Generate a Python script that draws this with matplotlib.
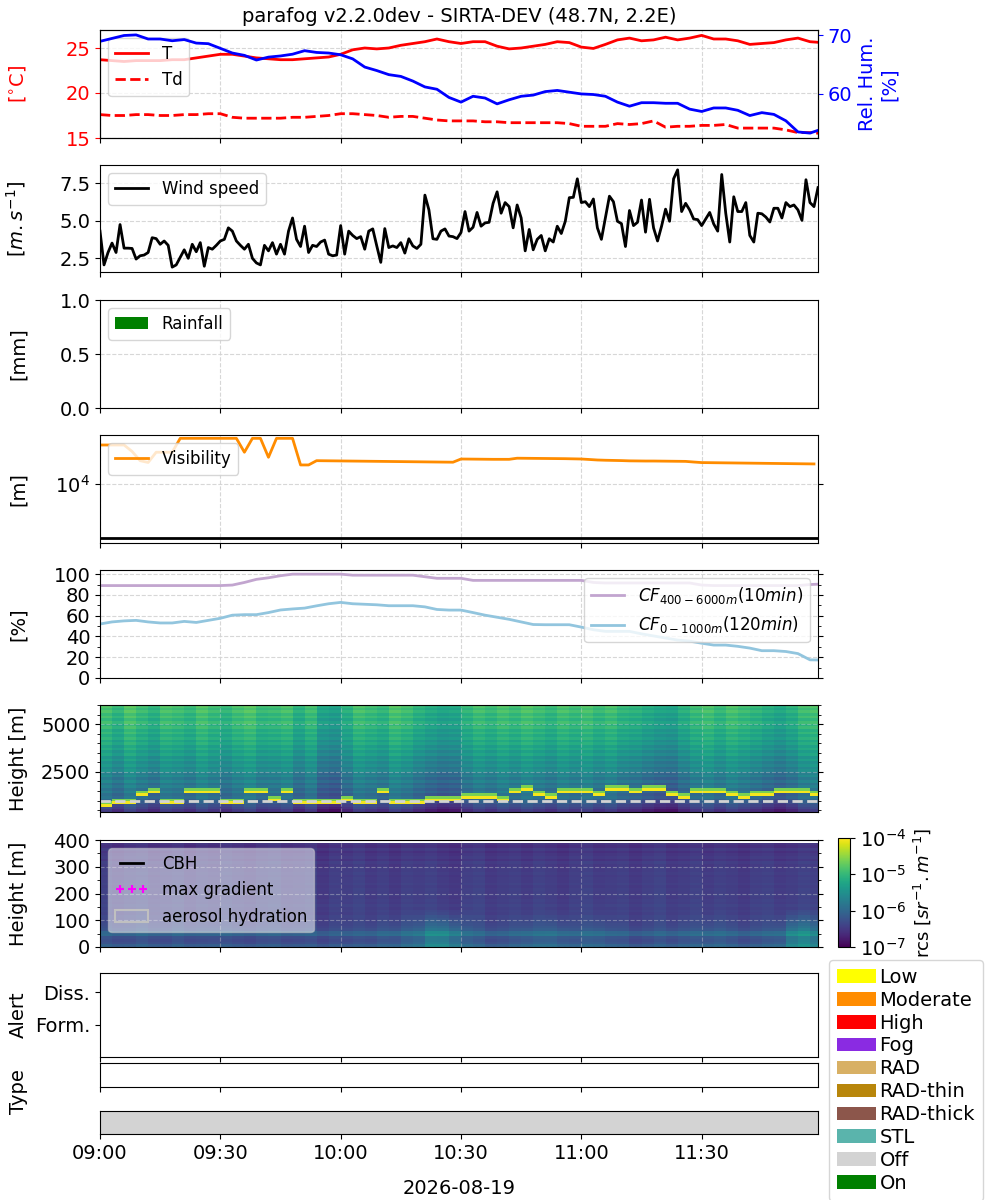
import numpy as np
import matplotlib
matplotlib.use('Agg')
import matplotlib.pyplot as plt
import matplotlib.dates as mdates
from matplotlib.colors import LogNorm
from matplotlib.patches import Patch
from matplotlib.lines import Line2D
from matplotlib.ticker import AutoMinorLocator, NullLocator, FixedLocator

title = 'parafog v2.2.0dev - SIRTA-DEV (48.7N, 2.2E)'
day = '2026-08-19'
t0 = np.datetime64(day + 'T09:00')
t_end = np.datetime64(day + 'T11:59')

# --- met data, every 3 min ---
temp = [23.7, 23.6, 23.5, 23.6, 23.6, 23.6, 23.7, 23.7, 23.9, 24.1,
        24.3, 24.3, 24.1, 23.9, 23.8, 23.7, 23.7, 23.8, 23.9, 24.0,
        24.3, 24.8, 25.0, 24.9, 25.0, 25.3, 25.5, 25.7, 26.0, 25.7,
        25.5, 25.7, 25.7, 25.2, 24.9, 25.0, 25.2, 25.4, 25.7, 25.6,
        25.1, 24.95, 25.4, 25.9, 26.1, 25.8, 25.9, 26.2, 25.9, 26.1,
        26.4, 26.0, 26.0, 25.8, 25.4, 25.5, 25.6, 25.9, 26.1, 25.7, 25.6]
dewpoint = [17.6, 17.5, 17.5, 17.6, 17.6, 17.5, 17.5, 17.6, 17.6, 17.7,
            17.7, 17.3, 17.2, 17.2, 17.2, 17.2, 17.3, 17.3, 17.4, 17.5,
            17.7, 17.7, 17.6, 17.5, 17.3, 17.4, 17.4, 17.2, 17.0, 16.9,
            16.9, 16.9, 16.8, 16.8, 16.7, 16.7, 16.7, 16.7, 16.7, 16.6,
            16.3, 16.3, 16.3, 16.6, 16.5, 16.6, 16.9, 16.2, 16.3, 16.3,
            16.4, 16.4, 16.5, 16.1, 16.1, 16.1, 16.1, 15.9, 15.6, 15.6, 15.5]
rel_hum = [69.0, 69.5, 70.0, 70.1, 69.4, 69.4, 69.1, 69.3, 68.7, 68.6,
           67.8, 67.0, 66.6, 65.8, 66.3, 66.5, 66.8, 67.4, 67.1, 67.0,
           66.7, 66.0, 64.6, 64.0, 63.3, 63.0, 62.2, 61.2, 60.8, 59.4,
           58.6, 59.6, 59.3, 58.3, 59.0, 59.6, 59.8, 60.4, 60.6, 60.3,
           60.0, 59.9, 59.6, 58.6, 57.9, 58.5, 58.5, 58.4, 58.4, 57.4,
           57.0, 57.6, 57.6, 57.2, 56.3, 56.8, 56.5, 55.4, 53.5, 53.3, 54.0]

# --- wind speed, every minute ---
wind = [4.3, 2.04, 2.87, 3.5, 2.87, 4.74, 3.16, 3.16, 3.14, 2.43,
        2.65, 2.7, 2.87, 3.86, 3.8, 3.42, 3.64, 3.35, 1.89, 2.04,
        2.54, 3.05, 2.48, 3.42, 2.92, 3.53, 1.95, 3.2, 3.09, 3.35,
        3.64, 3.75, 4.52, 4.3, 3.64, 3.35, 3.09, 3.42, 2.48, 2.17,
        2.04, 3.35, 2.98, 3.53, 2.76, 3.42, 2.76, 4.3, 5.18, 3.75,
        3.27, 4.63, 2.87, 3.35, 3.27, 3.57, 3.7, 2.76, 2.65, 2.7,
        4.67, 2.76, 4.3, 4.01, 3.8, 3.93, 3.09, 4.3, 4.45, 3.31,
        2.21, 4.47, 3.2, 3.31, 3.2, 3.53, 2.83, 3.79, 3.31, 3.14,
        3.42, 6.71, 5.72, 3.79, 3.75, 4.3, 4.45, 3.97, 3.93, 3.8,
        4.21, 5.61, 4.3, 4.56, 5.55, 4.63, 4.85, 4.89, 6.16, 6.93,
        5.5, 6.21, 5.94, 4.52, 6.05, 5.18, 2.98, 4.41, 3.05, 3.75,
        4.01, 2.98, 3.79, 3.57, 4.63, 4.14, 4.96, 6.54, 6.56, 7.8,
        6.21, 6.27, 5.94, 6.45, 4.52, 3.75, 5.18, 6.64, 6.27, 4.96,
        4.8, 3.27, 5.68, 4.67, 4.89, 6.38, 4.23, 6.43, 4.52, 3.64,
        4.63, 5.77, 4.96, 7.8, 8.4, 5.61, 6.16, 5.72, 5.11, 5.07,
        4.67, 5.11, 5.55, 4.78, 4.3, 8.09, 5.5, 3.57, 6.6, 5.61,
        5.61, 6.21, 4.01, 3.57, 5.5, 5.46, 5.24, 4.91, 5.83, 5.83,
        5.18, 6.21, 5.94, 6.05, 5.72, 5.02, 7.74, 6.21, 5.94, 7.21]

# --- rainfall, every 3 min ---
rainfall = [0.0] * 60

# --- visibility [m], every 2 min ---
visibility = [52700, 52700, 52700, 52700, 40000, 27000, 25000, 38700, 38700, 38700,
              70000, 70000, 70000, 70000, 70000, 70000, 70000, 70000, 38700, 70000,
              70000, 31200, 70000, 70000, 70000, 22500, 22500, 27000, 26900, 26800,
              26700, 26600, 26500, 26400, 26300, 26200, 26100, 26000, 25900, 25800,
              25700, 25600, 25500, 25400, 25300, 29000, 28900, 28800, 28700, 28600,
              28600, 28600, 30000, 29900, 29800, 29700, 29600, 29500, 29400, 29200,
              29000, 28400, 27800, 27500, 27300, 27100, 26800, 26700, 26600, 26600,
              26500, 26400, 26300, 26200, 25500, 24900, 24800, 24700, 24600, 24500,
              24400, 24300, 24200, 24100, 24000, 23900, 23800, 23700, 23600, 23500]
fog_vis_threshold = 1000

# --- cloud fractions [%], every 3 min ---
cf_high = [89, 89, 89, 89, 89, 89, 89, 89, 89, 89,
           89, 89.5, 92, 95, 96.5, 98.5, 100, 100, 100, 100,
           100, 99, 99, 99, 99, 99, 99, 97.5, 96, 96,
           96, 94, 94, 94, 94, 94, 94, 94, 94, 94,
           94, 92, 91.5, 91.5, 91.5, 91.5, 91.5, 91.5, 91.5, 91.5,
           89.5, 89, 89, 89, 89, 89, 89, 89, 89, 90, 90.5]
cf_low = [52, 54, 55, 55.5, 54, 53, 53, 54.5, 53.5, 55.5,
          57.5, 60.5, 61, 61, 63, 65.5, 66.5, 67.3, 69.5, 71.5,
          72.8, 71.5, 71, 70.5, 69.6, 69.6, 69.6, 68.5, 66, 65.4,
          65.4, 63, 60.5, 58.5, 56.5, 54, 51.5, 51.3, 51.3, 51.3,
          49, 46.5, 44.9, 44.9, 44.9, 42.5, 40.5, 38.5, 36.5, 35.5,
          33.5, 31.7, 31.7, 30.5, 28.8, 26.3, 26.3, 25.5, 23.5, 17.5, 17.3]

# --- lidar, columns every 3 min ---
cbh = [800, 820, 850, 1350, 1400, 900, 950, 1450, 1500, 1500,
       950, 900, 1450, 1500, 1000, 1500, 950, 900, 950, 900,
       1000, 950, 900, 1500, 900, 880, 900, 1000, 1000, 1000,
       1150, 1180, 1100, 1050, 1500, 1550, 1250, 1200, 1500, 1450,
       1400, 1350, 1600, 1550, 1500, 1550, 1600, 1250, 1200, 1500,
       1450, 1400, 1300, 1200, 1250, 1350, 1400, 1450, 1400, 1350]
# log10 rcs profile, 400-6000 m in 140 m bins
upper_profile = [-6.55, -6.40, -6.30, -6.15, -6.05, -5.90, -5.98, -5.80, -5.92, -5.74,
                 -5.88, -5.66, -5.82, -5.62, -5.74, -5.52, -5.62, -5.45, -5.56, -5.36,
                 -5.50, -5.28, -5.40, -5.22, -5.34, -5.16, -5.28, -5.10, -5.22, -5.06,
                 -5.18, -5.00, -5.14, -4.96, -5.10, -4.94, -5.06, -4.90, -5.00, -4.88]
upper_col_texture = [0.08, -0.08, 0.15, 0.0, -0.12, 0.09, 0.03, -0.06, 0.12, 0.0,
                     -0.08, 0.06, 0.15, -0.03, 0.0, 0.08, -0.15, 0.03, -0.3, -0.36,
                     -0.15, 0.08, 0.0, -0.08, 0.12, 0.03, -0.12, -0.22, -0.3, -0.27,
                     -0.08, 0.06, -0.03, 0.09, 0.0, 0.12, 0.03, -0.06, 0.08, 0.0,
                     0.09, -0.03, 0.06, -0.08, -0.12, -0.22, -0.3, -0.33, -0.15, 0.0,
                     0.08, -0.05, 0.09, 0.0, -0.08, -0.18, -0.27, -0.15, 0.03, 0.08]
# log10 rcs profile, 0-390 m in 10 m bins
lower_profile = [-6.15, -6.30, -6.35, -6.30, -6.05, -6.10, -6.30, -6.35, -6.38, -6.40,
                 -6.42, -6.40, -6.45, -6.42, -6.44, -6.40, -6.45, -6.43, -6.46, -6.42,
                 -6.45, -6.44, -6.47, -6.43, -6.46, -6.45, -6.48, -6.44, -6.47, -6.46,
                 -6.50, -6.45, -6.55, -6.48, -6.52, -6.58, -6.50, -6.60, -6.55]
lower_low_weight = [1.0, 1.0, 1.0, 0.9, 1.0, 0.9, 0.8, 0.7, 0.6, 0.5,
                    0.4, 0.3, 0.2, 0.1, 0, 0, 0, 0, 0, 0,
                    0, 0, 0, 0, 0, 0, 0, 0, 0, 0,
                    0, 0, 0, 0, 0, 0, 0, 0, 0]
lower_boost = [0.05, 0.05, 0.0, 0.05, 0.05, 0.0, 0.05, 0.05, 0.0, 0.05,
               0.0, 0.0, 0.0, 0.0, 0.0, 0.0, 0.0, 0.0, 0.0, 0.0,
               0.0, 0.0, 0.05, 0.1, 0.15, 0.2, 0.3, 0.55, 0.6, 0.45,
               0.2, 0.1, 0.05, 0.05, 0.1, 0.2, 0.2, 0.25, 0.2, 0.1,
               0.15, 0.2, 0.1, 0.05, 0.0, 0.0, 0.05, 0.05, 0.1, 0.1,
               0.15, 0.15, 0.1, 0.05, 0.05, 0.1, 0.2, 0.55, 0.65, 0.5]
lower_col_texture = [0.03, -0.04, 0.02, 0.05, -0.03, 0.0, 0.04, -0.05, 0.02, -0.02,
                     0.05, 0.0, -0.04, 0.03, 0.06, -0.02, 0.0, 0.04, -0.06, 0.02,
                     0.0, 0.05, -0.03, 0.02, -0.05, 0.03, 0.0, 0.04, -0.02, -0.06,
                     0.02, 0.05, -0.04, 0.0, 0.03, -0.03, 0.04, 0.0, -0.05, 0.02,
                     0.05, -0.02, 0.0, 0.03, -0.04, 0.02, 0.06, -0.03, 0.0, 0.04,
                     -0.02, 0.03, 0.0, -0.05, 0.02, 0.04, -0.03, 0.0, 0.05, 0.02]

# --- product periods ---
onoff_periods = [('Off', '09:00', '12:00')]

state_labels = ['Low', 'Moderate', 'High', 'Fog', 'RAD', 'RAD-thin', 'RAD-thick', 'STL', 'Off', 'On']
state_colors = ['yellow', 'darkorange', 'red', 'blueviolet', '#d8b064', 'darkgoldenrod',
                '#8c564b', '#5ab4ac', 'lightgray', 'green']

# time axes
t_met = t0 + np.arange(len(temp)) * np.timedelta64(3, 'm')
t_wind = t0 + np.arange(len(wind)) * np.timedelta64(1, 'm')
t_rain = t0 + np.arange(len(rainfall)) * np.timedelta64(3, 'm')
t_vis = t0 + np.arange(len(visibility)) * np.timedelta64(2, 'm')
t_cf = t0 + np.arange(len(cf_high)) * np.timedelta64(3, 'm')
t_edges = t0 + np.arange(len(cbh) + 1) * np.timedelta64(3, 'm')
up_edges = np.arange(400, 6001, 140)
low_edges = np.arange(0, 391, 10)

# lidar fields
upper = np.array(upper_profile)[:, None] + np.array(upper_col_texture)[None, :]
for j, h in enumerate(cbh):
    i = int((h - 400) // 140)
    upper[i, j] = -4.05
    upper[i + 1, j] = -4.6
lower = (np.array(lower_profile)[:, None] + np.array(lower_col_texture)[None, :]
         + np.array(lower_low_weight)[:, None] * np.array(lower_boost)[None, :])

FS = 14
plt.rcParams['font.size'] = FS

fig = plt.figure(figsize=(10, 12), dpi=100)


def rect(top, bot):
    return [0.10, 1 - bot / 1200, 0.718, (bot - top) / 1200]


def style(ax, right=True):
    ax.grid(True, ls='--', color='lightgray', alpha=0.9)
    ax.tick_params(labelbottom=False, labelsize=FS)
    if right:
        ax.tick_params(which='both', right=True)
    ax.yaxis.set_label_coords(-0.10, 0.5)


ax_t = fig.add_axes(rect(30, 138))
ax_w = fig.add_axes(rect(165, 272), sharex=ax_t)
ax_r = fig.add_axes(rect(300, 408), sharex=ax_t)
ax_v = fig.add_axes(rect(435, 543), sharex=ax_t)
ax_c = fig.add_axes(rect(570, 678), sharex=ax_t)
ax_h1 = fig.add_axes(rect(705, 812), sharex=ax_t)
ax_h2 = fig.add_axes(rect(840, 947), sharex=ax_t)
ax_a = fig.add_axes(rect(973, 1057), sharex=ax_t)
ax_ty = fig.add_axes(rect(1063, 1087), sharex=ax_t)
ax_o = fig.add_axes(rect(1111, 1134), sharex=ax_t)
cax = fig.add_axes([0.838, 1 - 947 / 1200, 0.012, 109 / 1200])

# temperature / humidity
ax_t.plot(t_met, temp, color='red', lw=2, label='T')
ax_t.plot(t_met, dewpoint, color='red', lw=2, ls='--', label='Td')
ax_t.set_ylim(15, 27)
ax_t.set_ylabel('[$^{\\circ}$C]', color='red')
ax_t.tick_params(axis='y', colors='red')
style(ax_t, right=False)
ax_t.legend(loc='upper left', fontsize=12)
ax_t.set_title(title, fontsize=FS)
ax_rh = ax_t.twinx()
ax_rh.plot(t_met, rel_hum, color='blue', lw=2)
ax_rh.set_ylabel('Rel. Hum.\n[%]', color='blue')
ax_rh.tick_params(axis='y', colors='blue', labelsize=FS)

# wind
ax_w.plot(t_wind, wind, color='black', lw=2, label='Wind speed')
ax_w.set_ylabel('[$m.s^{-1}$]')
style(ax_w, right=False)
ax_w.legend(loc='upper left', fontsize=12)

# rain
ax_r.bar(t_rain, rainfall, width=3 / 1440, color='green', label='Rainfall', align='edge')
ax_r.set_ylim(0, 1)
ax_r.set_yticks([0, 0.5, 1.0])
ax_r.set_ylabel('[mm]')
style(ax_r, right=False)
ax_r.legend(loc='upper left', fontsize=12)

# visibility
ax_v.plot(t_vis, visibility, color='darkorange', lw=2, label='Visibility')
ax_v.axhline(fog_vis_threshold, color='black', lw=2)
ax_v.set_yscale('log')
ax_v.set_ylim(807, 80700)
ax_v.yaxis.set_major_locator(FixedLocator([1e4]))
ax_v.yaxis.set_minor_locator(NullLocator())
ax_v.set_ylabel('[m]')
style(ax_v)
ax_v.legend(loc='upper left', fontsize=12)

# cloud fractions
ax_c.plot(t_cf, cf_high, color='#c2a5cf', lw=2, label='$CF_{400-6000m}(10min)$')
ax_c.plot(t_cf, cf_low, color='#92c5de', lw=2, label='$CF_{0-1000m}(120min)$')
ax_c.set_ylim(0, 104)
ax_c.set_yticks([0, 20, 40, 60, 80, 100])
ax_c.yaxis.set_minor_locator(AutoMinorLocator(2))
ax_c.set_ylabel('[%]')
style(ax_c)
ax_c.legend(loc='upper right', fontsize=12)

# lidar
norm = LogNorm(1e-7, 1e-4)
xe = mdates.date2num(t_edges)
mesh = ax_h1.pcolormesh(xe, up_edges, 10 ** upper, cmap='viridis', norm=norm)
ax_h1.axhline(1000, color='lightgray', ls='--', lw=2)
ax_h1.set_ylim(400, 6000)
ax_h1.set_yticks([2500, 5000])
ax_h1.yaxis.set_minor_locator(AutoMinorLocator(5))
ax_h1.set_ylabel('Height [m]')
style(ax_h1)
ax_h1.grid(True, ls='--', color='lightgray', alpha=0.4)

ax_h2.pcolormesh(xe, low_edges, 10 ** lower, cmap='viridis', norm=norm)
ax_h2.set_ylim(0, 400)
ax_h2.set_yticks([0, 100, 200, 300, 400])
ax_h2.yaxis.set_minor_locator(AutoMinorLocator(2))
ax_h2.set_ylabel('Height [m]')
style(ax_h2)
ax_h2.grid(True, ls='--', color='lightgray', alpha=0.4)
lid_handles = [Line2D([], [], color='black', lw=2, label='CBH'),
               Line2D([], [], color='magenta', marker='+', ls='', ms=6, mew=1.5, label='max gradient'),
               Patch(facecolor='none', edgecolor='silver', lw=1.5, label='aerosol hydration')]
ax_h2.legend(handles=lid_handles, loc='upper left', fontsize=12, numpoints=3, framealpha=0.5)

cb = fig.colorbar(mesh, cax=cax)
cb.set_ticks([1e-7, 1e-6, 1e-5, 1e-4])
cb.ax.minorticks_off()
cb.ax.tick_params(labelsize=FS)
cb.set_label('rcs [$sr^{-1}.m^{-1}$]', fontsize=13)

# alert / type
ax_a.set_ylim(-1, 1.6)
ax_a.set_yticks([0, 1])
ax_a.set_yticklabels(['Form.', 'Diss.'])
ax_a.set_ylabel('Alert')
ax_a.tick_params(labelbottom=False, labelsize=FS)
ax_a.yaxis.set_label_coords(-0.10, 0.5)

ax_ty.set_yticks([])
ax_ty.set_ylabel('Type')
ax_ty.tick_params(labelbottom=False)
ax_ty.yaxis.set_label_coords(-0.10, -0.2)

for state, start, stop in onoff_periods:
    ax_o.axvspan(np.datetime64(day + 'T' + start), np.datetime64(day + 'T' + stop),
                 color=state_colors[state_labels.index(state)])
ax_o.set_yticks([])
ax_o.set_xlabel(day, fontsize=FS, labelpad=12)
ax_o.tick_params(labelsize=FS)

ax_o.xaxis.set_major_locator(mdates.MinuteLocator(byminute=[0, 30]))
ax_o.xaxis.set_major_formatter(mdates.DateFormatter('%H:%M'))
ax_o.set_xlim(t0, t_end)

patches = [Patch(facecolor=c, label=l) for l, c in zip(state_labels, state_colors)]
fig.legend(handles=patches, loc='upper left', bbox_to_anchor=(0.829, 1 - 960 / 1200),
           fontsize=FS, handletextpad=0.2, labelspacing=0.2, borderaxespad=0)

fig.savefig('out.png', dpi=100)
